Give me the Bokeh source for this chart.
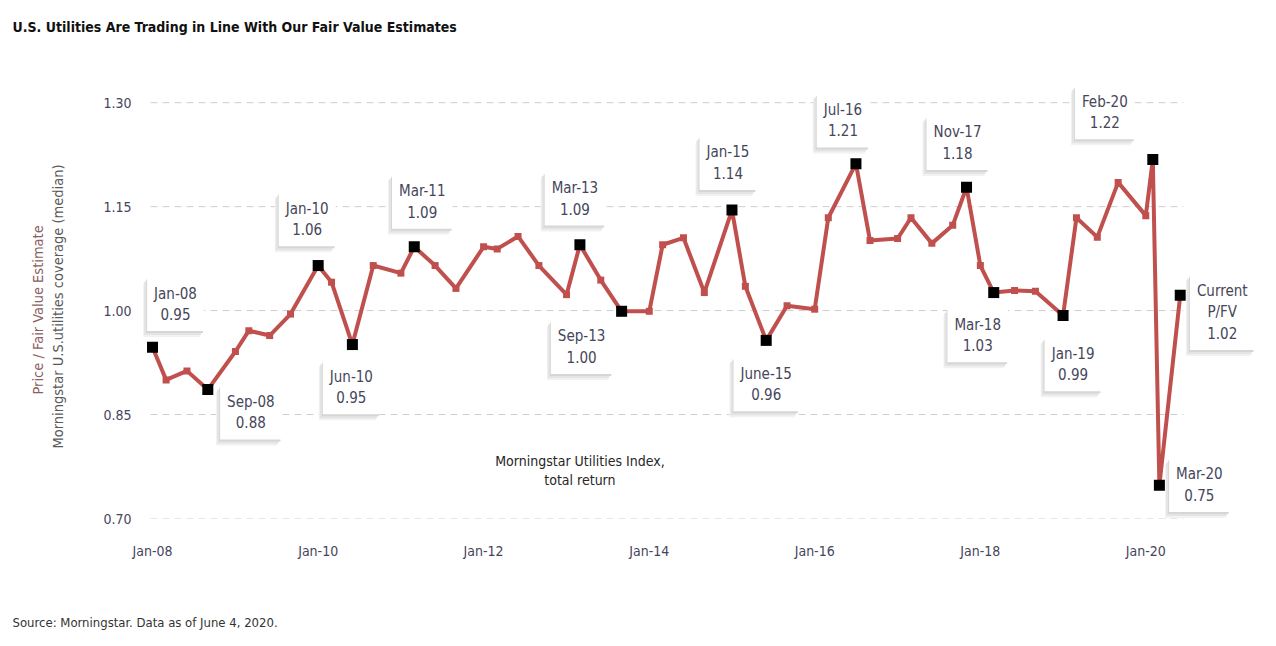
import pandas as pd
from bokeh.plotting import figure
from bokeh.models import Label, Title, FixedTicker, NumeralTickFormatter, Range1d, ColumnDataSource
from bokeh.embed import file_html
from bokeh.resources import INLINE

# ---------------- data ----------------
dates = ["2008-01", "2008-03", "2008-06", "2008-09", "2009-01", "2009-03", "2009-06", "2009-09",
         "2010-01", "2010-03", "2010-06", "2010-09", "2011-01", "2011-03", "2011-06", "2011-09",
         "2012-01", "2012-03", "2012-06", "2012-09", "2013-01", "2013-03", "2013-06", "2013-09",
         "2014-01", "2014-03", "2014-06", "2014-09", "2015-01", "2015-03", "2015-06", "2015-09",
         "2016-01", "2016-03", "2016-07", "2016-09", "2017-01", "2017-03", "2017-06", "2017-09",
         "2017-11", "2018-01", "2018-03", "2018-06", "2018-09", "2019-01", "2019-03", "2019-06",
         "2019-09", "2020-01", "2020-02", "2020-03", "2020-06"]
pfv = [0.947, 0.900, 0.913, 0.886, 0.941, 0.971, 0.964, 0.995,
       1.065, 1.041, 0.951, 1.065, 1.054, 1.092, 1.065, 1.032,
       1.092, 1.089, 1.107, 1.065, 1.023, 1.095, 1.044, 0.999,
       0.999, 1.095, 1.105, 1.026, 1.145, 1.035, 0.957, 1.007,
       1.002, 1.134, 1.212, 1.101, 1.104, 1.134, 1.097, 1.123,
       1.178, 1.065, 1.026, 1.029, 1.028, 0.993, 1.134, 1.106,
       1.185, 1.137, 1.218, 0.748, 1.022]

highlight_dates = ["2008-01", "2008-09", "2010-01", "2010-06", "2011-03", "2013-03", "2013-09",
                   "2015-01", "2015-06", "2016-07", "2017-11", "2018-03", "2019-01", "2020-02",
                   "2020-03", "2020-06"]
highlight_labels = ["Jan-08\n0.95", "Sep-08\n0.88", "Jan-10\n1.06", "Jun-10\n0.95", "Mar-11\n1.09",
                    "Mar-13\n1.09", "Sep-13\n1.00", "Jan-15\n1.14", "June-15\n0.96", "Jul-16\n1.21",
                    "Nov-17\n1.18", "Mar-18\n1.03", "Jan-19\n0.99", "Feb-20\n1.22", "Mar-20\n0.75",
                    "Current\nP/FV\n1.02"]

x_tick_dates = ["2008-01", "2010-01", "2012-01", "2014-01", "2016-01", "2018-01", "2020-01"]
x_tick_labels = ["Jan-08", "Jan-10", "Jan-12", "Jan-14", "Jan-16", "Jan-18", "Jan-20"]
y_ticks = [0.70, 0.85, 1.00, 1.15, 1.30]

title_text = "U.S. Utilities Are Trading in Line With Our Fair Value Estimates"
y_title_1 = "Price / Fair Value Estimate"
y_title_2 = "Morningstar U.S.utilities coverage (median)"
index_note = "Morningstar Utilities Index,\ntotal return"
index_note_pos = ("2013-03", 0.769)
source_text = "Source: Morningstar. Data as of June 4, 2020."

# ---------------- layout / style ----------------
label_offsets = [(23, 43), (43, -23), (-11, 46), (-1, -43), (8, 45), (-5, 46), (-40, -36),
                 (-4, 47), (0, -44), (-13, 43), (-9, 44), (-16, -43), (10, -49), (-48, 47),
                 (40, 0), (42, -17)]

FONT = "Noto Sans ExtraCondensed, Noto Sans Condensed, DejaVu Sans Condensed, Roboto"
W, H = 1276, 646
FL, FR, FT, FB = 140, 1262, 80, 518          # frame edges in pixels
X_START, X_END = "2007-11-09", "2021-05-30"  # x range of the frame
GRID_START, GRID_END = "2007-12-23", "2020-06-15"
TXT = "#45465a"

x = pd.to_datetime(dates)
hx = pd.to_datetime(highlight_dates)
hv = [pfv[dates.index(d)] for d in highlight_dates]

p = figure(width=W, height=H, x_axis_type="datetime", output_backend="svg",
           toolbar_location=None, min_border_left=FL, min_border_right=W - FR,
           min_border_top=FT, min_border_bottom=H - FB,
           x_range=Range1d(pd.Timestamp(X_START), pd.Timestamp(X_END)),
           y_range=Range1d(0.70, 1.332))
p.outline_line_color = None
p.background_fill_color = "white"
p.border_fill_color = "white"

# title (blank trailing lines lift it toward the top edge)
p.title.text = title_text + "\n\n"
p.title.align = "left"
p.title.offset = 12 - FL
p.title.standoff = 28
p.title.text_font = FONT
p.title.text_font_size = "14px"
p.title.text_font_style = "bold"
p.title.text_color = "#111111"

# axes
for ax in (p.xaxis, p.yaxis):
    ax.axis_line_color = None
    ax.major_tick_line_color = None
    ax.minor_tick_line_color = None
    ax.major_label_text_font = FONT
    ax.major_label_text_font_size = "14px"
    ax.major_label_text_color = TXT
p.yaxis.ticker = FixedTicker(ticks=y_ticks)
p.yaxis.formatter = NumeralTickFormatter(format="0.00")
p.yaxis.major_label_standoff = 3
xt = [pd.Timestamp(d).value / 1e6 for d in x_tick_dates]
p.xaxis.ticker = FixedTicker(ticks=xt)
p.xaxis.major_label_overrides = {t: l for t, l in zip(xt, x_tick_labels)}
p.xaxis.major_label_standoff = 18

# axis titles and source as side titles
p.add_layout(Title(text=y_title_2 + "\n\n", align="left", offset=70, standoff=5, text_font=FONT,
                   text_font_size="14.5px", text_font_style="normal", text_color="#5a5a5a"), "left")
p.add_layout(Title(text=y_title_1, align="left", offset=124, standoff=0, text_font=FONT,
                   text_font_size="14.5px", text_font_style="normal", text_color="#8b5f5f"), "left")
p.add_layout(Title(text="\n\n\n" + source_text, align="left", offset=12 - FL, text_font=FONT,
                   text_font_size="13px", text_font_style="normal", text_color="#333333",
                   standoff=13), "below")

# grid (dashed, limited to the data span)
p.xgrid.grid_line_color = None
p.ygrid.grid_line_color = None
n = len(y_ticks)
p.segment(x0=[pd.Timestamp(GRID_START)] * n, y0=y_ticks, x1=[pd.Timestamp(GRID_END)] * n,
          y1=y_ticks, line_color="#cfcfcf", line_dash="7 5", line_width=1)

# series
src = ColumnDataSource(dict(x=x, y=pfv))
p.line("x", "y", source=src, line_color="#c0504d", line_width=4)
p.scatter("x", "y", source=src, marker="square", size=7, fill_color="#c0504d", line_color=None)
p.scatter(hx, hv, marker="square", size=11, fill_color="black", line_color=None)

# callout boxes with soft shadow
for d, v, t, (ox, oy) in zip(hx, hv, highlight_labels, label_offsets):
    for (dx, dy, c) in ((-4, -6, "#f2f2f2"), (-3, -4, "#e4e4e4"), (-1, -2, "#d6d6d6")):
        p.add_layout(Label(x=d, y=v, x_offset=ox + dx, y_offset=oy + dy, text=t,
                           text_align="center", text_baseline="middle", text_color=c,
                           text_font=FONT, text_font_size="15px", padding=7,
                           background_fill_color=c))
    p.add_layout(Label(x=d, y=v, x_offset=ox, y_offset=oy, text=t,
                       text_align="center", text_baseline="middle",
                       text_font=FONT, text_font_size="15px", text_color=TXT,
                       padding=7, background_fill_color="white"))

# index note
p.add_layout(Label(x=pd.Timestamp(index_note_pos[0]), y=index_note_pos[1], text=index_note,
                   text_align="center", text_baseline="middle", text_font=FONT,
                   text_font_size="14px", text_color="#262626"))

open("out.html", "w").write(file_html(p, INLINE))
